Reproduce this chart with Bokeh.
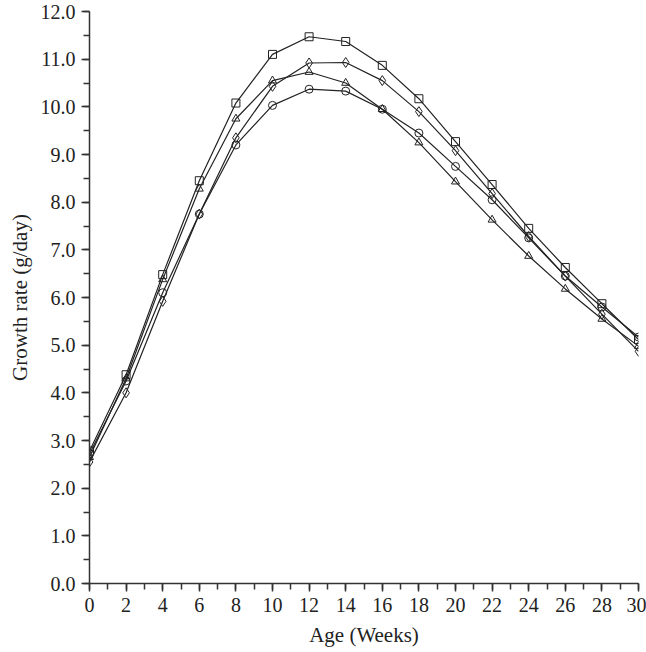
import numpy as np
from bokeh.plotting import figure
from bokeh.models import Range1d, FixedTicker, NumeralTickFormatter
from bokeh.embed import file_html
from bokeh.resources import INLINE

weeks = [0, 2, 4, 6, 8, 10, 12, 14, 16, 18, 20, 22, 24, 26, 28, 30]
series_square = [2.78, 4.38, 6.48, 8.45, 10.08, 11.10, 11.47, 11.37, 10.87, 10.17, 9.27, 8.37, 7.45, 6.63, 5.87, 5.12]
series_diamond = [2.55, 4.00, 5.92, 7.75, 9.35, 10.43, 10.92, 10.93, 10.55, 9.90, 9.08, 8.18, 7.28, 6.45, 5.65, 4.87]
series_triangle = [2.65, 4.30, 6.38, 8.28, 9.75, 10.55, 10.73, 10.50, 9.95, 9.25, 8.43, 7.63, 6.87, 6.18, 5.55, 4.98]
series_circle = [2.72, 4.25, 6.10, 7.75, 9.20, 10.03, 10.37, 10.33, 9.95, 9.45, 8.75, 8.05, 7.25, 6.45, 5.80, 5.17]
x_ticks = list(range(0, 31, 2))
y_ticks = list(range(0, 13))

FONT = "Liberation Serif"

p = figure(width=646, height=652, output_backend="svg", toolbar_location=None,
           x_range=Range1d(0, 30), y_range=Range1d(0, 12),
           min_border_left=89, min_border_right=8, min_border_top=11, min_border_bottom=69)
p.outline_line_color = None
p.xgrid.visible = False
p.ygrid.visible = False

p.xaxis.ticker = FixedTicker(ticks=x_ticks, minor_ticks=list(range(0, 31)))
p.yaxis.ticker = FixedTicker(ticks=y_ticks, minor_ticks=[i * 0.5 for i in range(0, 25)])
p.yaxis.formatter = NumeralTickFormatter(format="0.0")

for ax in (p.xaxis, p.yaxis):
    ax.axis_line_color = "#333333"
    ax.axis_line_width = 1.5
    ax.major_tick_line_color = "#333333"
    ax.minor_tick_line_color = "#333333"
    ax.major_tick_line_width = 1.5
    ax.minor_tick_line_width = 1.5
    ax.major_tick_in = 0
    ax.major_tick_out = 8
    ax.minor_tick_in = 0
    ax.minor_tick_out = 6
    ax.major_label_text_font = FONT
    ax.major_label_text_font_size = "20px"
    ax.major_label_text_color = "#222222"
    ax.axis_label_text_font = FONT
    ax.axis_label_text_font_size = "21px"
    ax.axis_label_text_font_style = "normal"
    ax.axis_label_text_color = "#222222"

p.xaxis.axis_label = "Age (Weeks)"
p.yaxis.axis_label = "Growth rate (g/day)"
p.xaxis.major_label_standoff = 6
p.yaxis.major_label_standoff = 6
p.xaxis.axis_label_standoff = 8
p.yaxis.axis_label_standoff = 6

for ys, marker in ((series_square, "square"), (series_diamond, "diamond"),
                   (series_triangle, "triangle"), (series_circle, "circle")):
    p.line(weeks, ys, line_color="#222222", line_width=1.2)
    size = 10 if marker == "diamond" else 8
    p.scatter(weeks, ys, marker=marker, size=size, fill_alpha=0,
              line_color="#222222", line_width=1)

open("out.html", "w").write(file_html(p, INLINE))
